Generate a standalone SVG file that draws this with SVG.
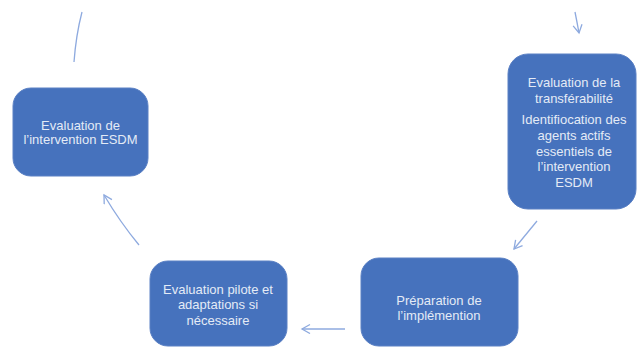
<svg xmlns="http://www.w3.org/2000/svg" width="638" height="347" viewBox="0 0 638 347">
<style>
.box{fill:#4672bd;stroke:#5a80c4;stroke-width:1}
.t{font-family:"Liberation Sans",Arial,sans-serif;font-size:13px;fill:#e4ebf6;text-anchor:middle}
.c{fill:none;stroke:#8eaadf;stroke-width:1.3}
</style>
<defs>
<marker id="ah" markerUnits="userSpaceOnUse" markerWidth="12" markerHeight="12" refX="9" refY="5" orient="auto">
<path d="M1,0.5 L9,5 L1,9.5" fill="none" stroke="#8eaadf" stroke-width="1.3"/>
</marker>
</defs>
<rect width="638" height="347" fill="#ffffff"/>
<g id="connectors">
<path class="c" d="M82,12 Q76,35 74,62"/>
<path class="c" d="M575,12 Q577,22 579,33" marker-end="url(#ah)"/>
<path class="c" d="M537,221 L514,249" marker-end="url(#ah)"/>
<path class="c" d="M345,329 L302,329" marker-end="url(#ah)"/>
<path class="c" d="M139,245 Q120,222 104,195" marker-end="url(#ah)"/>
</g>
<g id="node-eval-esdm">
<rect class="box" x="13" y="88" width="135" height="88" rx="18"/>
<text class="t" x="80.5" y="129.5">Evaluation  de</text>
<text class="t" x="80.5" y="144">l’intervention ESDM</text>
</g>
<g id="node-transferabilite">
<rect class="box" x="508" y="54" width="128" height="155" rx="20"/>
<text class="t" x="574" y="86.5">Evaluation de la</text>
<text class="t" x="574" y="102.5">transférabilité</text>
<text class="t" x="574" y="123.5">Identifiocation des</text>
<text class="t" x="574" y="139.5">agents actifs</text>
<text class="t" x="574" y="155.5">essentiels de</text>
<text class="t" x="574" y="171">l’intervention</text>
<text class="t" x="574" y="186.5">ESDM</text>
</g>
<g id="node-preparation">
<rect class="box" x="361" y="258" width="157" height="88" rx="18"/>
<text class="t" x="439" y="304.5">Préparation de</text>
<text class="t" x="439" y="319.5">l’implémention</text>
</g>
<g id="node-pilote">
<rect class="box" x="150" y="261" width="137" height="85" rx="18"/>
<text class="t" x="218" y="293.5">Evaluation pilote et</text>
<text class="t" x="218" y="309">adaptations si</text>
<text class="t" x="218" y="324.5">nécessaire</text>
</g>
</svg>
